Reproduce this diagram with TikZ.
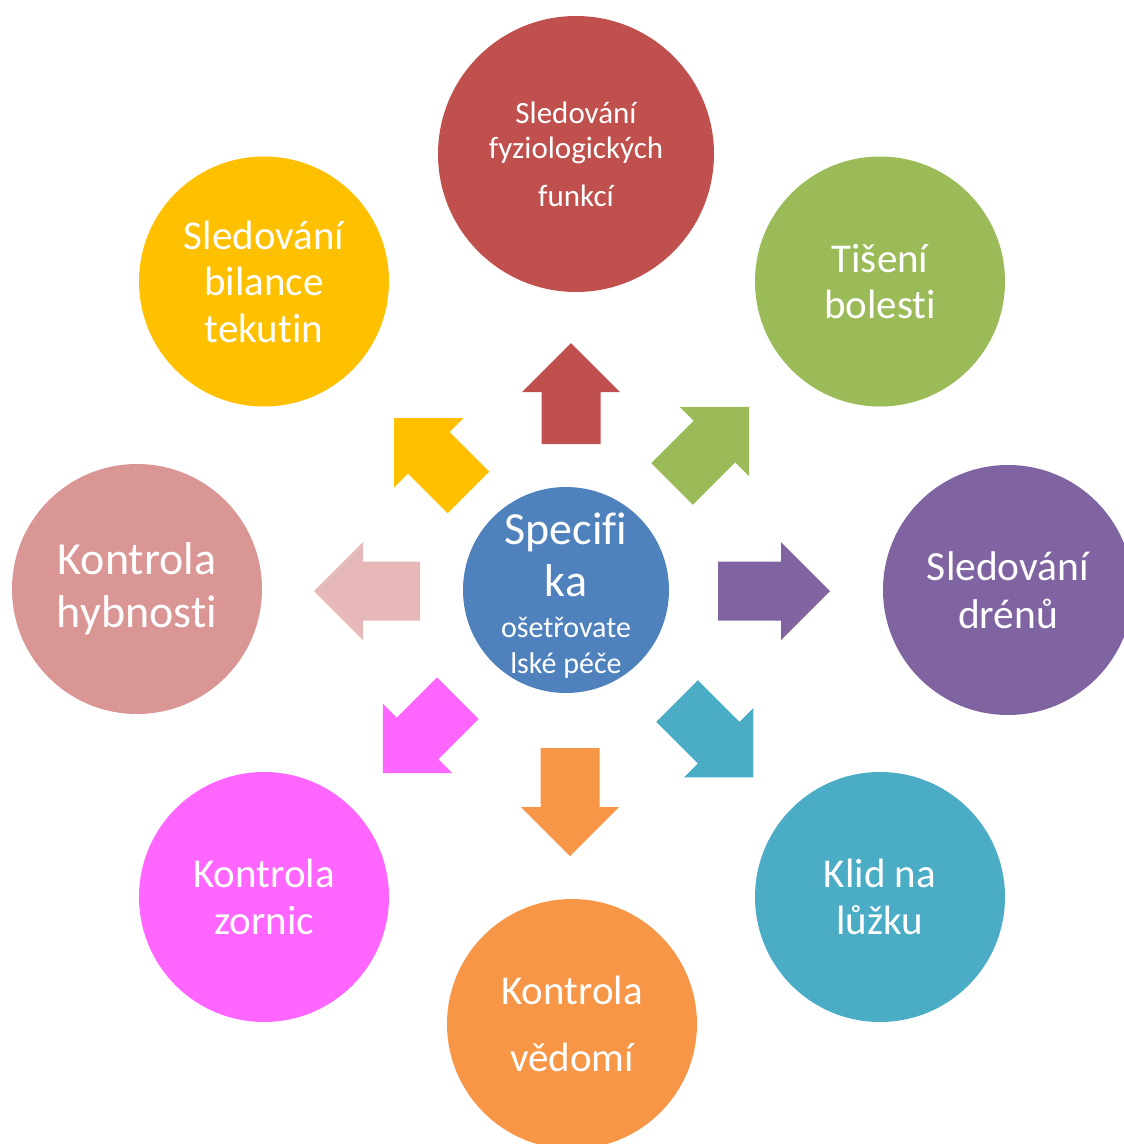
\documentclass[tikz,border=0pt]{standalone}
\usepackage{fontspec}
\setmainfont[Ligatures=NoCommon]{Carlito}
\definecolor{cRed}{HTML}{C0504D}
\definecolor{cYellow}{HTML}{FFC000}
\definecolor{cGreen}{HTML}{9BBB59}
\definecolor{cPurple}{HTML}{8064A2}
\definecolor{cTeal}{HTML}{4BACC6}
\definecolor{cOrange}{HTML}{F79646}
\definecolor{cMagenta}{HTML}{FF66FF}
\definecolor{cRose}{HTML}{D99694}
\definecolor{cRoseLight}{HTML}{E6B9B8}
\definecolor{cBlue}{HTML}{4F81BD}
% block arrow pointing away from the hub:
% #1 angle, #2 colour, #3 start distance, #4 tip distance, #5 extra offset
\newcommand\hubarrow[5]{%
  \pgfmathsetmacro\headbase{#4-49}%
  \fill[#2, shift={(ctr.center)}, shift={#5}, rotate=#1]
    (#3,-29.5) -- (\headbase,-29.5) -- (\headbase,-49) -- (#4,0)
    -- (\headbase,49) -- (\headbase,29.5) -- (#3,29.5) -- cycle;}
\begin{document}
\begin{tikzpicture}[x=1pt,y=-1pt,
  bubble/.style={circle, inner sep=0pt, minimum size=250pt, text=white, align=center,
                 font=\fontsize{41}{46.5}\selectfont},
  hubtext/.style={text=white, align=center, inner sep=0pt}]
\useasboundingbox (0,0) rectangle (1124,1144);
\clip (0,0) rectangle (1124,1144);

% hub
\node[circle, inner sep=0pt, minimum size=206pt, fill=cBlue] (ctr) at (566,590) {};
\node[hubtext, font=\fontsize{46}{52}\selectfont] (ctrtop) at (566,555) {Specifi\\ka};
\node[hubtext, font=\fontsize{30}{36}\selectfont] (ctrbot) at (566,648) {ošetřovate\\lské péče};

% surrounding topics
\node[bubble, fill=cRed, minimum size=276pt, font=\fontsize{31}{35}\selectfont]
  (vital) at (576,154) {Sledování\\fyziologických\\[13pt]funkcí};
\node[bubble, fill=cGreen] (pain) at (880,281.5) {Tišení\\bolesti};
\node[bubble, fill=cPurple, font=\fontsize{41.5}{48}\selectfont] (drain) at (1008,590) {Sledování\\drénů};
\node[bubble, fill=cTeal] (rest) at (880,897) {Klid na\\lůžku};
\node[bubble, fill=cOrange] (consc) at (572,1024) {Kontrola\\[21pt]vědomí};
\node[bubble, fill=cMagenta] (pupil) at (264,897) {Kontrola\\zornic};
\node[bubble, fill=cRose, font=\fontsize{46}{53}\selectfont] (mobil) at (137,589) {Kontrola\\hybnosti};
\node[bubble, fill=cYellow] (fluid) at (264,281.5) {Sledování\\bilance\\tekutin};

% arrows radiating from the hub
\hubarrow{90}{cRed}{146}{247}{(5,0)}
\hubarrow{45}{cGreen}{150}{259}{(0,0)}
\hubarrow{0}{cPurple}{152}{264}{(0,1)}
\hubarrow{-45}{cTeal}{157}{265}{(0,0)}
\hubarrow{-90}{cOrange}{158}{266}{(4,0)}
\hubarrow{-135}{cMagenta}{153}{259}{(0,0)}
\hubarrow{180}{cRoseLight}{146}{252}{(0,1)}
\hubarrow{135}{cYellow}{138}{243}{(0,0)}
\end{tikzpicture}
\end{document}
